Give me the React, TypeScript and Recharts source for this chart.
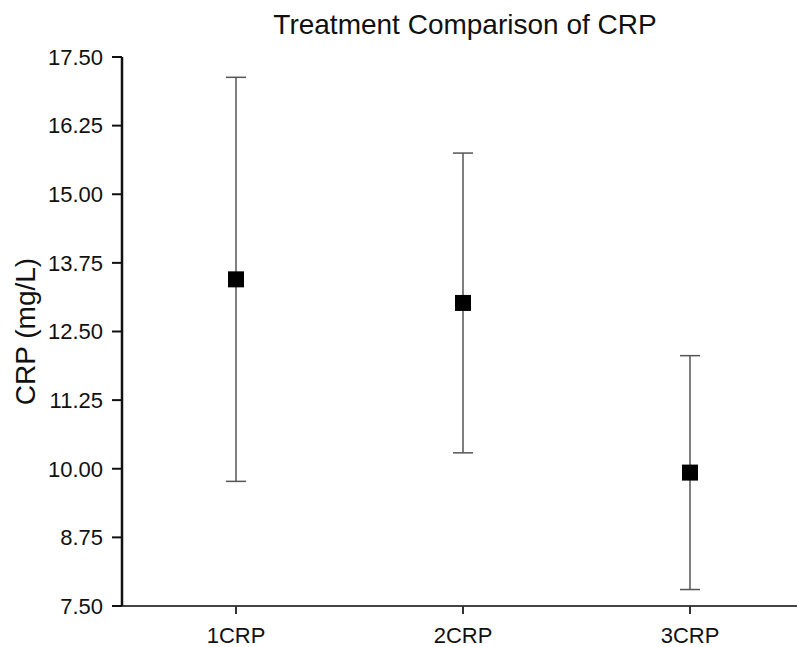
import React from 'react';
import { ComposedChart, Line, XAxis, YAxis, ErrorBar } from 'recharts';

const categories = ['1CRP', '2CRP', '3CRP'];
const means = [13.45, 13.02, 9.93];
const sds = [3.68, 2.73, 2.13];
const yTicks = [7.5, 8.75, 10, 11.25, 12.5, 13.75, 15, 16.25, 17.5];

const data = categories.map((name, i) => ({ name, mean: means[i], sd: sds[i] }));

const FONT = '"Liberation Sans", Arial, sans-serif';

const SquareDot = (props: any) => {
  const { cx, cy } = props;
  if (cx == null || cy == null) return null;
  return <rect x={cx - 8} y={cy - 8} width={16} height={16} fill="#000" />;
};

export default function App() {
  return (
    <div style={{ position: 'absolute', left: 0, top: 0, width: 797, height: 647, background: '#fff' }}>
      <ComposedChart
        width={797}
        height={647}
        data={data}
        margin={{ top: 57, right: 0, bottom: 0, left: 0 }}
        style={{ position: 'absolute', left: 0, top: 0 }}
      >
        <XAxis
          dataKey="name"
          height={41}
          padding={{ left: 114, right: 107 }}
          axisLine={{ stroke: '#444', strokeWidth: 2 }}
          tickLine={{ stroke: '#333', strokeWidth: 2 }}
          tickSize={8}
          tickMargin={13}
          tick={{ fill: '#111', fontSize: 22, fontFamily: FONT }}
          interval={0}
        />
        <YAxis
          type="number"
          domain={[7.5, 17.5]}
          ticks={yTicks}
          width={122}
          allowDataOverflow
          axisLine={{ stroke: '#111', strokeWidth: 2.5 }}
          tickLine={{ stroke: '#111', strokeWidth: 2 }}
          tickSize={10}
          tickMargin={9}
          tick={{ fill: '#111', fontSize: 22, fontFamily: FONT }}
          tickFormatter={(v: number) => v.toFixed(2)}
          label={{
            value: 'CRP (mg/L)',
            angle: -90,
            position: 'insideLeft',
            offset: 25,
            textAnchor: 'middle',
            style: { fill: '#111', fontSize: 28, fontFamily: FONT, textAnchor: 'middle' },
          }}
        />
        <Line
          dataKey="mean"
          stroke="none"
          dot={<SquareDot />}
          activeDot={false}
          isAnimationActive={false}
        >
          <ErrorBar dataKey="sd" direction="y" width={10} stroke="#555" strokeWidth={1.5} />
        </Line>
      </ComposedChart>
      <svg width={797} height={50} style={{ position: 'absolute', left: 0, top: 0 }}>
        <text x={465} y={34} textAnchor="middle" fontFamily={FONT} fontSize={28} fill="#111">
          Treatment Comparison of CRP
        </text>
      </svg>
    </div>
  );
}
